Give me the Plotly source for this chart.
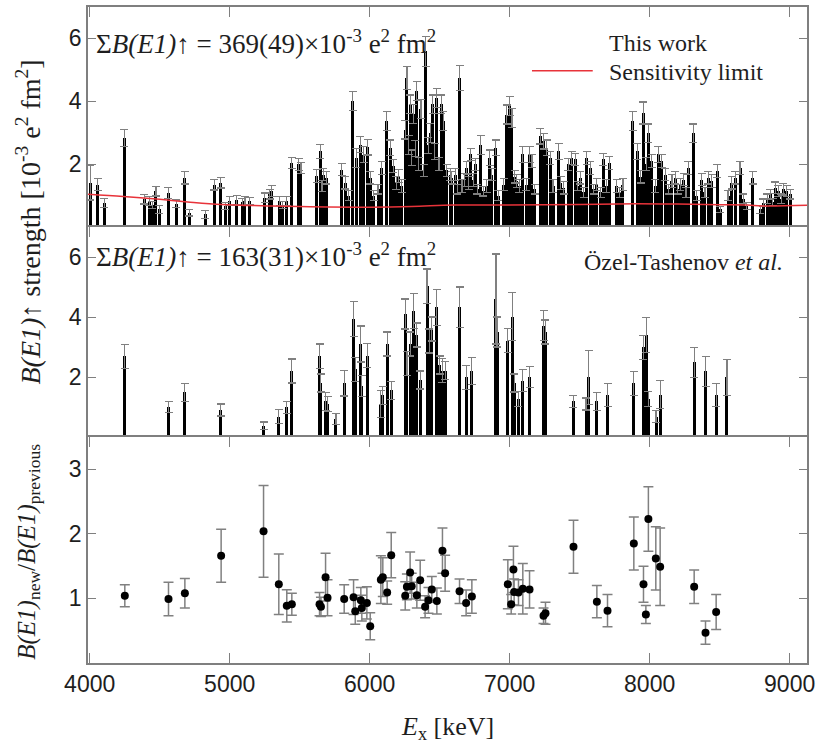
import plotly.graph_objects as go

# ---------------- data ----------------
# This work: excitation energy [keV], B(E1) strength [1e-3 e^2 fm^2], uncertainty
E_new = [4005, 4056, 4104, 4246, 4389, 4425, 4448, 4473, 4496, 4561, 4620, 4680, 4711, 4827, 4889,
         4937, 4970, 5001, 5049, 5090, 5109, 5144, 5251, 5287,
         5301, 5356, 5380, 5408, 5444, 5492, 5509, 5623, 5646, 5660, 5670, 5689, 5801, 5825, 5850,
         5880, 5904, 5932, 5956, 5987, 6004, 6030, 6060, 6087, 6123, 6146, 6170, 6190, 6206, 6230,
         6254, 6266, 6280, 6289, 6300, 6313, 6325, 6337, 6350, 6366, 6385, 6401, 6418, 6432, 6449,
         6465, 6480, 6495, 6511, 6527, 6550, 6575,
         6587, 6611, 6625, 6642, 6660, 6680, 6694, 6708, 6723, 6740, 6754, 6770, 6794, 6813, 6835,
         6856, 6873, 6901, 6920, 6956, 6980, 6999, 7016, 7035, 7051, 7070, 7094, 7118, 7142, 7159,
         7180, 7218, 7242, 7266, 7289, 7310, 7349, 7365, 7385, 7420, 7444, 7468, 7485, 7504, 7530,
         7551, 7575, 7600, 7623, 7650, 7670, 7690, 7713, 7766, 7785, 7809,
         7880, 7913, 7935, 7956, 7975, 7991, 8016, 8040, 8063, 8087, 8111, 8135, 8159, 8182, 8200,
         8218, 8242, 8260, 8277, 8313, 8335, 8373, 8395, 8420, 8444, 8484, 8504, 8560, 8587, 8611,
         8646, 8670, 8694, 8737, 8789, 8813, 8840, 8861, 8880, 8897, 8920, 8940, 8956, 8980, 9004]
B_new = [1.41, 1.35, 0.77, 2.84, 0.88, 0.83, 0.70, 1.14, 0.56, 1.09, 0.74, 1.57, 0.45, 0.40, 1.35,
         1.41, 0.67, 0.83, 0.85, 0.80, 0.83, 0.83, 0.93, 1.04,
         1.14, 0.83, 0.70, 0.83, 2.04, 1.99, 1.88, 1.62, 2.41, 1.30, 1.67, 1.57, 1.83, 1.41, 1.00,
         4.00, 2.20, 2.62, 2.30, 2.54, 1.57, 1.00, 1.20, 1.88, 3.37, 2.52, 1.94, 1.40, 1.62, 1.30,
         3.10, 4.74, 2.60, 3.90, 2.20, 3.60, 2.50, 4.32, 2.00, 3.75, 1.80, 5.59, 2.60, 3.00, 3.90,
         2.40, 4.10, 2.00, 3.90, 3.37, 1.80, 1.67,
         1.57, 1.67, 1.20, 4.74, 1.30, 1.50, 1.88, 1.40, 2.31, 1.50, 1.99, 1.20, 2.62, 1.14, 1.30,
         2.20, 1.67, 2.52, 1.00, 1.35, 3.58, 3.84, 3.47, 1.60, 1.46, 1.30, 2.31, 1.35, 2.31, 2.10,
         1.20, 2.89, 2.73, 2.52, 2.20, 1.30, 2.41, 1.40, 1.25, 1.99, 2.20, 2.15, 1.30, 1.57, 1.10,
         2.20, 1.88, 1.20, 1.35, 1.10, 2.15, 1.30, 2.04, 1.30, 1.10, 1.35,
         3.37, 2.41, 1.60, 3.63, 2.00, 2.98, 2.10, 1.30, 2.31, 2.10, 1.67, 1.20, 1.46, 1.57, 1.20,
         1.35, 1.51, 1.10, 1.88, 2.98, 1.00, 1.51, 1.10, 1.57, 1.46, 1.78, 0.56, 1.00, 1.41, 1.57,
         1.88, 0.90, 0.67, 1.57, 0.56, 0.77, 0.90, 1.04, 0.80, 1.25, 1.14, 0.90, 1.20, 1.14, 1.04]
dB_new = [0.55, 0.20, 0.15, 0.27, 0.15, 0.15, 0.12, 0.15, 0.12, 0.17, 0.12, 0.20, 0.10, 0.12, 0.17,
          0.17, 0.12, 0.15, 0.15, 0.12, 0.15, 0.12, 0.15, 0.15,
          0.18, 0.15, 0.12, 0.15, 0.18, 0.20, 0.18, 0.20, 0.22, 0.18, 0.20, 0.20, 0.20, 0.20, 0.15,
          0.30, 0.30, 0.25, 0.25, 0.25, 0.20, 0.15, 0.15, 0.20, 0.30, 0.25, 0.20, 0.20, 0.20, 0.20,
          0.30, 0.37, 0.30, 0.30, 0.25, 0.30, 0.25, 0.30, 0.20, 0.30, 0.20, 0.48, 0.25, 0.30, 0.30,
          0.25, 0.30, 0.20, 0.30, 0.30, 0.20, 0.20,
          0.20, 0.20, 0.15, 0.40, 0.20, 0.20, 0.20, 0.20, 0.20, 0.20, 0.20, 0.15, 0.30, 0.15, 0.20,
          0.25, 0.20, 0.25, 0.15, 0.20, 0.30, 0.30, 0.30, 0.20, 0.20, 0.20, 0.25, 0.20, 0.25, 0.20,
          0.15, 0.25, 0.25, 0.25, 0.20, 0.20, 0.25, 0.20, 0.20, 0.20, 0.20, 0.20, 0.15, 0.20, 0.15,
          0.20, 0.20, 0.15, 0.20, 0.15, 0.20, 0.20, 0.20, 0.20, 0.15, 0.20,
          0.30, 0.25, 0.20, 0.35, 0.20, 0.30, 0.20, 0.20, 0.25, 0.20, 0.20, 0.15, 0.20, 0.20, 0.15,
          0.20, 0.20, 0.15, 0.20, 0.30, 0.15, 0.20, 0.15, 0.20, 0.20, 0.20, 0.10, 0.15, 0.20, 0.20,
          0.20, 0.15, 0.12, 0.20, 0.12, 0.12, 0.15, 0.15, 0.12, 0.18, 0.18, 0.15, 0.18, 0.18, 0.15]

# Sensitivity limit
E_sens = [3988, 4240, 4500, 4700, 4940, 5300, 5500, 6000, 6300, 6600, 7000, 7500, 7900, 8200,
          8500, 8700, 8800, 9124]
S_sens = [1.04, 0.97, 0.88, 0.80, 0.72, 0.67, 0.65, 0.63, 0.65, 0.70, 0.70, 0.72, 0.74, 0.73,
          0.71, 0.70, 0.67, 0.69]

# Ozel-Tashenov et al. (previous)
E_prev = [4249, 4563, 4680, 4937, 5242, 5351, 5408, 5444, 5642, 5650, 5685, 5700, 5759, 5818,
          5885, 5897, 5937, 5944, 5983, 6078, 6094, 6125, 6154, 6254, 6266, 6289, 6315, 6337,
          6361, 6410, 6425, 6444, 6480, 6500, 6520, 6539, 6643, 6689, 6730, 6902, 6910, 6987,
          7020, 7032, 7063, 7094, 7142, 7244, 7256, 7456, 7546, 7565, 7623, 7700, 7887, 7956,
          7975, 7991, 8046, 8075, 8318, 8399, 8475, 8552]
B_prev = [2.69, 1.01, 1.49, 0.90, 0.38, 0.68, 0.99, 2.20, 2.69, 1.80, 1.19, 1.10, 0.60, 1.79,
          3.93, 2.25, 3.10, 1.70, 2.71, 1.10, 1.39, 3.10, 1.56, 4.10, 2.45, 3.10, 4.21, 3.40,
          1.90, 5.02, 3.20, 3.60, 4.32, 2.40, 2.21, 2.21, 4.32, 1.99, 2.21, 4.60, 3.50, 3.21,
          4.01, 1.80, 1.27, 1.88, 1.99, 3.71, 3.50, 1.19, 1.10, 1.99, 1.19, 1.41, 1.79, 2.99,
          3.40, 1.27, 0.68, 1.41, 2.49, 2.19, 1.41, 1.99]
dB_prev = [0.40, 0.18, 0.30, 0.20, 0.12, 0.23, 0.20, 0.40, 0.41, 0.30, 0.30, 0.25, 0.19, 0.42,
           0.58, 0.40, 0.60, 0.35, 0.40, 0.45, 0.30, 0.40, 0.30, 0.50, 0.40, 0.40, 0.58, 0.40,
           0.30, 0.58, 0.40, 0.40, 0.60, 0.30, 0.40, 0.30, 0.68, 0.40, 0.45, 1.50, 0.50, 0.40,
           0.80, 0.30, 0.25, 0.37, 0.35, 0.50, 0.40, 0.20, 0.20, 0.90, 0.30, 0.38, 0.40, 0.40,
           0.59, 0.25, 0.20, 0.47, 0.50, 0.50, 0.38, 0.60]

# Ratio new / previous
E_ratio = [4251, 4563, 4680, 4939, 5242, 5351, 5408, 5444, 5642, 5652, 5685, 5699, 5818, 5885,
           5897, 5937, 5944, 5980, 6004, 6080, 6094, 6125, 6154, 6254, 6266, 6289, 6300, 6337,
           6361, 6396, 6420, 6444, 6480, 6520, 6539, 6642, 6689, 6730, 6987, 7011, 7027, 7032,
           7063, 7094, 7142, 7242, 7256, 7456, 7623, 7699, 7887, 7956, 7973, 7991, 8044, 8075,
           8318, 8399, 8475]
R = [1.04, 0.99, 1.08, 1.66, 2.04, 1.22, 0.885, 0.91, 0.91, 0.87, 1.33, 1.01, 0.99, 1.02,
     0.80, 0.97, 0.85, 0.93, 0.57, 1.29, 1.33, 1.09, 1.67, 1.04, 1.18, 1.40, 1.19, 1.05,
     1.28, 0.87, 0.97, 1.14, 0.96, 1.74, 1.39, 1.11, 0.93, 1.03, 1.22, 0.91, 1.45, 1.10,
     1.09, 1.15, 1.14, 0.73, 0.77, 1.80, 0.95, 0.81, 1.85, 1.22, 0.75, 2.23, 1.62, 1.49,
     1.18, 0.47, 0.79]
dR = [0.17, 0.26, 0.23, 0.41, 0.71, 0.47, 0.25, 0.17, 0.18, 0.15, 0.37, 0.28, 0.22, 0.27,
      0.20, 0.20, 0.20, 0.25, 0.21, 0.37, 0.30, 0.18, 0.35, 0.22, 0.20, 0.32, 0.20, 0.20,
      0.31, 0.17, 0.20, 0.20, 0.20, 0.35, 0.28, 0.19, 0.20, 0.26, 0.38, 0.15, 0.36, 0.20,
      0.20, 0.39, 0.29, 0.12, 0.17, 0.41, 0.25, 0.25, 0.41, 0.28, 0.14, 0.50, 0.49, 0.60,
      0.26, 0.18, 0.27]

x_ticks = [4000, 5000, 6000, 7000, 8000, 9000]
x_range = [3988, 9124]

# ---------------- figure ----------------
GRAY = "#7f7f7f"
ERR = "#808080"
SERIF = "Liberation Serif, Times New Roman, serif"
SANS = "Liberation Sans, Arial, sans-serif"
TXT = "#1e1e1e"

fig = go.Figure()

fig.add_trace(go.Bar(x=E_new, y=B_new, width=22, marker=dict(color="black", line_width=0),
                     error_y=dict(type="data", array=dB_new, color=ERR, thickness=1.2, width=4),
                     xaxis="x", yaxis="y", showlegend=False))
fig.add_trace(go.Scatter(x=E_sens, y=S_sens, mode="lines", line=dict(color="#e8333a", width=1.5),
                         line_shape="spline", xaxis="x", yaxis="y", showlegend=False))
fig.add_trace(go.Bar(x=E_prev, y=B_prev, width=22, marker=dict(color="black", line_width=0),
                     error_y=dict(type="data", array=dB_prev, color=ERR, thickness=1.2, width=4),
                     xaxis="x2", yaxis="y2", showlegend=False))
fig.add_trace(go.Scatter(x=E_ratio, y=R, mode="markers", marker=dict(color="black", size=8),
                         error_y=dict(type="data", array=dR, color=ERR, thickness=1.5, width=5),
                         xaxis="x3", yaxis="y3", showlegend=False))

common_x = dict(range=x_range, tickvals=x_ticks, ticks="inside", ticklen=10, tickwidth=1.2,
                tickcolor=GRAY, showline=True, linecolor=GRAY, linewidth=1.5, automargin=False,
                showgrid=False, zeroline=False, tickfont=dict(family=SANS, size=23, color=TXT))
common_y = dict(ticks="inside", ticklen=8, tickwidth=1.2, tickcolor=GRAY, showline=True,
                linecolor=GRAY, linewidth=1.5, mirror="ticks", showgrid=False, zeroline=False,
                automargin=False, tickfont=dict(family=SANS, size=23, color=TXT))

d1, d2 = 0.3445, 0.6646
fig.update_layout(
    width=821, height=748, margin=dict(l=88, r=14, t=7, b=85),
    paper_bgcolor="white", plot_bgcolor="white", barmode="overlay", bargap=0,
    xaxis=dict(common_x, anchor="y", side="top", showticklabels=False, matches="x3"),
    xaxis2=dict(common_x, anchor="y2", side="top", showticklabels=False, matches="x3"),
    xaxis3=dict(common_x, anchor="y3", side="bottom", mirror="ticks", showticklabels=True),
    yaxis=dict(common_y, domain=[d2, 1], range=[0, 7], tickvals=[2, 4, 6]),
    yaxis2=dict(common_y, domain=[d1, d2], range=[0, 7], tickvals=[2, 4, 6]),
    yaxis3=dict(common_y, domain=[0, d1], range=[0, 3.5], tickvals=[1, 2, 3]),
)

# x-axis title
fig.add_annotation(xref="paper", yref="paper", x=0.5, y=-0.099, xanchor="center", yanchor="middle",
                   text="<i>E</i><sub>x</sub> [keV]", showarrow=False,
                   font=dict(family=SERIF, size=26, color=TXT))

ann_font = dict(family=SERIF, size=27, color=TXT)
fig.add_annotation(xref="paper", yref="paper", x=0.008, y=0.9466, xanchor="left", yanchor="middle",
                   text="Σ<i>B(E1)</i><b>↑</b> = 369(49)×10<sup>-3</sup> e<sup>2</sup> fm<sup>2</sup>",
                   showarrow=False, font=ann_font)
fig.add_annotation(xref="paper", yref="paper", x=0.008, y=0.622, xanchor="left", yanchor="middle",
                   text="Σ<i>B(E1)</i><b>↑</b> = 163(31)×10<sup>-3</sup> e<sup>2</sup> fm<sup>2</sup>",
                   showarrow=False, font=ann_font)
fig.add_annotation(xref="paper", yref="paper", x=0.969, y=0.6118, xanchor="right", yanchor="middle",
                   text="Özel-Tashenov <i>et al.</i>", showarrow=False,
                   font=dict(family=SERIF, size=24, color=TXT))
fig.add_annotation(xref="paper", yref="paper", x=0.722, y=0.945, xanchor="left", yanchor="middle",
                   text="This work", showarrow=False, font=dict(family=SERIF, size=24, color=TXT))
fig.add_annotation(xref="paper", yref="paper", x=0.722, y=0.901, xanchor="left", yanchor="middle",
                   text="Sensitivity limit", showarrow=False, font=dict(family=SERIF, size=24, color=TXT))
fig.add_shape(type="line", xref="paper", yref="paper", x0=0.6175, x1=0.702, y0=0.903, y1=0.903,
              line=dict(color="#e8333a", width=1.5))

fig.add_annotation(xref="paper", yref="paper", x=-0.083, y=0.672, xanchor="center",
                   yanchor="middle", textangle=-90, showarrow=False,
                   text="<i>B(E1)</i><b>↑</b> strength [10<sup>-3</sup> e<sup>2</sup> fm<sup>2</sup>]",
                   font=dict(family=SERIF, size=28, color=TXT))
fig.add_annotation(xref="paper", yref="paper", x=-0.083, y=0.17, xanchor="center",
                   yanchor="middle", textangle=-90, showarrow=False,
                   text="<i>B(E1)</i><sub>new</sub>/<i>B(E1)</i><sub>previous</sub>",
                   font=dict(family=SERIF, size=25, color=TXT))

fig.write_html("out.html")
